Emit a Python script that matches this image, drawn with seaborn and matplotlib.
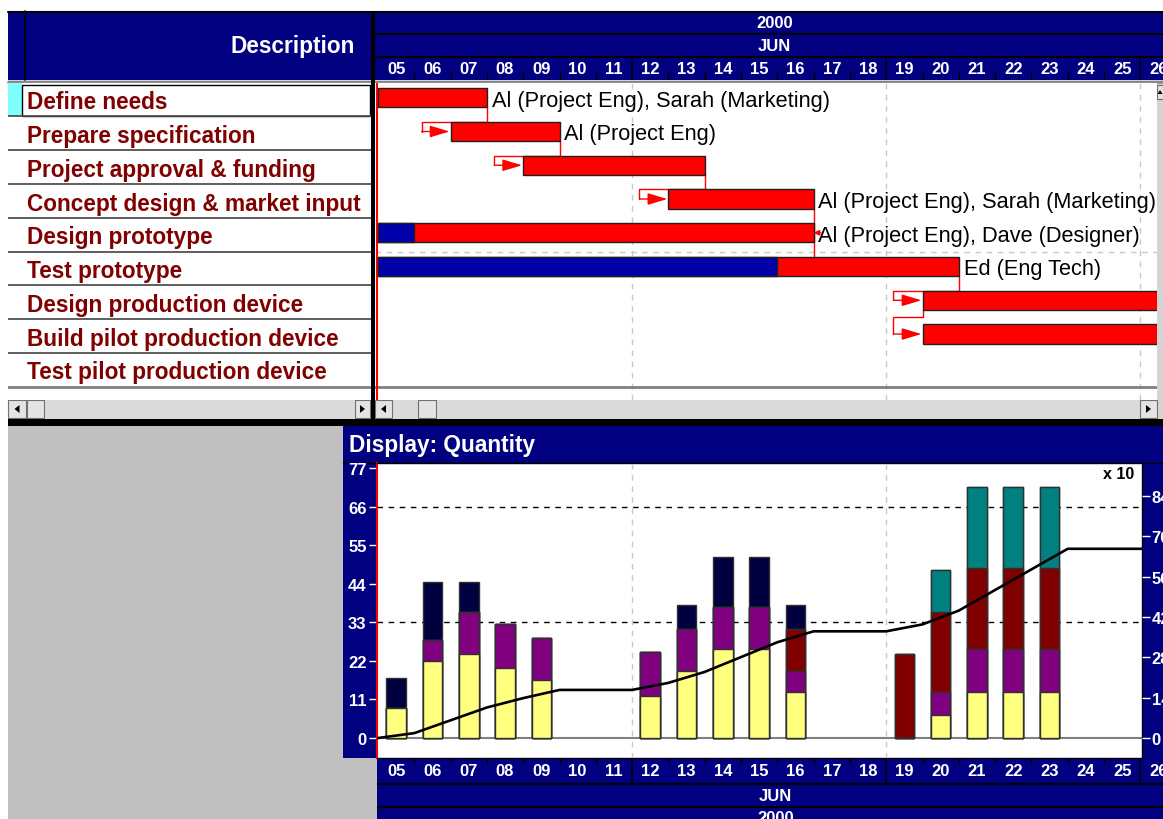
import numpy as np
import pandas as pd
import matplotlib
matplotlib.use("Agg")
import matplotlib.pyplot as plt
from matplotlib.patches import Rectangle, Polygon
import seaborn as sns

sns.set_theme(style="white")
plt.rcParams['font.family'] = ['Liberation Sans', 'DejaVu Sans']

# ---------------- data ----------------
day_labels = ['05', '06', '07', '08', '09', '10', '11', '12', '13', '14', '15',
              '16', '17', '18', '19', '20', '21', '22', '23', '24', '25', '26']
month_label = 'JUN'
year_label = '2000'

task_names = ['Define needs', 'Prepare specification', 'Project approval & funding',
              'Concept design & market input', 'Design prototype', 'Test prototype',
              'Design production device', 'Build pilot production device',
              'Test pilot production device']
# start / finish in days after 05 Jun 2000
task_start = [0, 2, 4, 8, 0, 0, 15, 15, np.nan]
task_finish = [3, 5, 9, 12, 12, 16, 24, 24, np.nan]
task_done = [0, 0, 0, 0, 1, 11, 0, 0, 0]
task_resources = ['Al (Project Eng), Sarah (Marketing)', 'Al (Project Eng)', '',
                  'Al (Project Eng), Sarah (Marketing)',
                  'Al (Project Eng), Dave (Designer)', 'Ed (Eng Tech)', '', '', '']
# (predecessor, successor, link type)
links = [(0, 1, 'FS'), (1, 2, 'FS'), (2, 3, 'FS'), (5, 6, 'FS'), (6, 7, 'SS')]

# daily quantity per resource layer, stacked bottom to top
qty_yellow = [8.5, 22, 24, 20, 16.5, 0, 0, 12, 19, 25.5, 25.5, 13, 0, 0, 0, 6.5, 13, 13, 13, 0, 0, 0]
qty_purple = [0, 6, 12, 12.5, 12, 0, 0, 12.5, 12, 12, 12, 6, 0, 0, 0, 6.5, 12.5, 12.5, 12.5, 0, 0, 0]
qty_maroon = [0, 0, 0, 0, 0, 0, 0, 0, 0, 0, 0, 12, 0, 0, 24, 23, 23, 23, 23, 0, 0, 0]
qty_teal = [0, 0, 0, 0, 0, 0, 0, 0, 0, 0, 0, 0, 0, 0, 0, 12, 23, 23, 23, 0, 0, 0]
qty_navy = [8.5, 16.5, 8.5, 0, 0, 0, 0, 0, 7, 14, 14, 7, 0, 0, 0, 0, 0, 0, 0, 0, 0, 0]

left_ticks = [0, 11, 22, 33, 44, 55, 66, 77]
right_ticks = [0, 14, 28, 42, 56, 70, 84]

# ---------------- styling ----------------
NAVY = '#000080'
DARKRED = '#800000'
LAYER_COLORS = ['#ffff80', '#800080', '#800000', '#008080', '#000040']
EDGE = '#303030'

W, H = 1163, 820
fig = plt.figure(figsize=(W / 100, H / 100), dpi=100, facecolor='white')


def frac(x0, y0, x1, y1):
    return [x0 / W, 1 - y1 / H, (x1 - x0) / W, (y1 - y0) / H]


# window chrome drawn in pixel space
bg = fig.add_axes([0, 0, 1, 1], zorder=0)
bg.set_xlim(0, W)
bg.set_ylim(H, 0)
bg.axis('off')


def box(x0, y0, x1, y1, fc, ec='none', lw=0, z=1):
    bg.add_patch(Rectangle((x0, y0), x1 - x0, y1 - y0, facecolor=fc,
                           edgecolor=ec, linewidth=lw, zorder=z))


def arrow_button(x0, y0, x1, y1, direction):
    box(x0, y0, x1, y1, '#e4e4e4', ec='#707070', lw=0.8, z=3)
    cx, cy = (x0 + x1) / 2, (y0 + y1) / 2
    if direction == 'left':
        pts = [(cx + 2.5, cy - 4), (cx + 2.5, cy + 4), (cx - 2.5, cy)]
    elif direction == 'right':
        pts = [(cx - 2.5, cy - 4), (cx - 2.5, cy + 4), (cx + 2.5, cy)]
    else:
        pts = [(cx - 2.5, cy + 2), (cx + 2.5, cy + 2), (cx, cy - 2)]
    bg.add_patch(Polygon(pts, closed=True, facecolor='black', edgecolor='none', zorder=4))


# top headers
box(8, 12, 371, 81, NAVY)
box(375, 12, 1163, 81, NAVY)
bg.plot([8, 1163], [12.5, 12.5], color='black', lw=1.5, zorder=2)
bg.plot([25, 25], [12, 81], color='black', lw=1.2, zorder=2)
bg.plot([8, 1163], [81.5, 81.5], color='#202020', lw=1, zorder=2)
bg.plot([8, 1163], [83.2, 83.2], color='#909090', lw=2, zorder=2)
bg.text(355, 53.3, 'Description', ha='right', va='baseline', color='white',
        fontsize=16.3, fontweight='bold')
box(371, 12, 375, 420, 'black', z=5)

# scrollbars
box(8, 401, 371, 420, '#dadada')
box(375, 401, 1157, 420, '#dadada')
arrow_button(8, 401, 26, 419, 'left')
box(27, 401, 44, 419, '#e4e4e4', ec='#707070', lw=0.8, z=3)
arrow_button(355, 401, 370, 419, 'right')
arrow_button(375, 401, 392, 419, 'left')
box(418, 401, 436, 419, '#e4e4e4', ec='#707070', lw=0.8, z=3)
arrow_button(1140, 401, 1157, 419, 'right')
box(1157, 84, 1163, 420, '#d4d4d4')
arrow_button(1157, 86, 1163, 100, 'up')

# lower panel
box(8, 420, 1163, 427, 'black', z=5)
box(8, 427, 343, 820, '#c0c0c0')
box(343, 759, 377, 820, '#c0c0c0')
box(343, 427, 1163, 759, NAVY)
box(377, 759, 1163, 820, NAVY)
bg.plot([343, 1163], [464, 464], color='black', lw=1, zorder=2)
bg.text(349, 446, 'Display: Quantity', ha='left', va='center', color='white',
        fontsize=16.3, fontweight='bold')

# ---------------- timescale header (top) ----------------
D0, DPX = 378.0, 36.3   # pixel of 05 Jun start, pixels per day
hdr = fig.add_axes(frac(375, 12, 1163, 81), zorder=2)
hdr.set_xlim((375 - D0) / DPX, (1163 - D0) / DPX)
hdr.set_ylim(81, 12)
hdr.axis('off')
hdr.patch.set_alpha(0)
hdr.axhline(35, color='black', lw=1.5)
hdr.axhline(58, color='black', lw=1.5)
for k, lab in enumerate(day_labels):
    hdr.text(k + 0.5, 69.5, lab, ha='center', va='center', color='white',
             fontsize=12, fontweight='bold')
    if k > 0:
        if k % 7 == 0:
            hdr.plot([k, k], [58, 81], color='black', lw=1.2)
        else:
            hdr.plot([k, k], [72, 81], color='black', lw=1)
hdr.text(0.507, 24, year_label, transform=hdr.get_yaxis_transform(), ha='center',
         va='center', color='white', fontsize=12, fontweight='bold')
hdr.text(0.507, 46.5, month_label, transform=hdr.get_yaxis_transform(), ha='center',
         va='center', color='white', fontsize=12, fontweight='bold')

# ---------------- task table ----------------
YLIM = (8.954, -0.437)
tb = fig.add_axes(frac(8, 84, 371, 401), zorder=2)
tb.set_xlim(0, 363)
tb.set_ylim(*YLIM)
tb.set_facecolor('white')
for s in tb.spines.values():
    s.set_visible(False)
tb.set_xticks([])
tb.set_yticks([])
tb.add_patch(Rectangle((0, -0.437), 14, 0.99, facecolor='#80ffff', edgecolor='none'))
tb.add_patch(Rectangle((14.3, -0.39), 348, 0.93, facecolor='none', edgecolor='black', lw=1))
for i in range(8):
    tb.axhline(i + 0.555, color='#505050', lw=1.3)
tb.axhline(8.57, color='#808080', lw=2)
for i, name in enumerate(task_names):
    tb.text(19, i + 0.315, name, va='baseline', ha='left', color=DARKRED,
            fontsize=16.3, fontweight='bold')

# ---------------- Gantt ----------------
gt = fig.add_axes(frac(375, 84, 1157, 401), zorder=2)
gt.set_xlim((375 - D0) / DPX, (1157 - D0) / DPX)
gt.set_ylim(*YLIM)
gt.set_facecolor('white')
for s in gt.spines.values():
    s.set_visible(False)
gt.set_xticks([])
gt.set_yticks([])
for wk in (7, 14, 21):
    gt.axvline(wk, color='#c8c8c8', lw=1, ls=(0, (4, 4)), zorder=0)
gt.axhline(4.555, color='#c8c8c8', lw=1, ls=(0, (4, 4)), zorder=0)
gt.axhline(8.57, color='#808080', lw=2, zorder=0)
gt.axvline(-0.04, color='red', lw=1.5, zorder=0)

BAR_H = 0.574
for i in range(len(task_names)):
    st, fn, dn = task_start[i], task_finish[i], task_done[i]
    if np.isnan(st):
        continue
    gt.barh(i, fn - st, left=st, height=BAR_H, color='#ff0000', edgecolor='#202020',
            lw=1, zorder=3)
    if dn > 0:
        gt.barh(i, dn, left=st, height=BAR_H, color='#0000a8', edgecolor='#202020',
                lw=1, zorder=3)
    if task_resources[i]:
        gt.annotate(task_resources[i], xy=(fn, i + 0.235), xytext=(3.5, 0),
                    textcoords='offset points', va='baseline', ha='left',
                    fontsize=15.7, color='black', zorder=4)

LINK = dict(color='#ff0000', lw=1, zorder=2)
ARROW = dict(arrowstyle='-|>,head_length=1.0,head_width=0.3', color='#ff0000',
             lw=1, shrinkA=0, shrinkB=0, mutation_scale=12)
for p, s, kind in links:
    x_in = task_start[s] - 0.8
    if kind == 'FS':
        x_out, y0, y1 = task_finish[p], p + BAR_H / 2, s - BAR_H / 2
    else:
        x_out, y0 = task_start[p], p + BAR_H / 2
        y1 = (y0 + s - BAR_H / 2) / 2
    gt.plot([x_out, x_out, x_in, x_in], [y0, y1, y1, s], **LINK)
    gt.annotate('', xy=(task_start[s] - 0.03, s), xytext=(x_in, s), arrowprops=ARROW,
                zorder=2)
# concept design finish tied to the prototype bars
gt.plot([task_finish[3], task_finish[3]], [3 + BAR_H / 2, 5 - BAR_H / 2], **LINK)
gt.annotate('', xy=(task_finish[4], 4), xytext=(task_finish[4] + 0.2, 4),
            arrowprops=dict(arrowstyle='-|>,head_length=0.4,head_width=0.2',
                            color='#ff0000', lw=1, shrinkA=0, shrinkB=0,
                            mutation_scale=8))

# ---------------- quantity histogram ----------------
df = pd.DataFrame({'day': day_labels, 'yellow': qty_yellow, 'purple': qty_purple,
                   'maroon': qty_maroon, 'teal': qty_teal, 'navy': qty_navy})
layers = ['yellow', 'purple', 'maroon', 'teal', 'navy']
cum = df[layers].cumsum(axis=1)
total = cum['navy']

XL = (377 - D0) / DPX - 0.5, (1142 - D0) / DPX - 0.5
ax = fig.add_axes(frac(377, 464, 1142, 759), zorder=3)
ax.set_facecolor('white')
ax.axhline(0, color='#808080', lw=1.5, zorder=0.5)
for gy in (33, 66):
    ax.axhline(gy, color='black', lw=1, ls=(0, (4, 4)), zorder=0.5)

# stacked columns: draw cumulative tops from the highest layer downwards
for layer, color in zip(layers[::-1], LAYER_COLORS[::-1]):
    tops = cum[layer].where(total > 0)
    sns.barplot(x=df['day'], y=tops, order=day_labels, color=color, saturation=1,
                width=0.54, edgecolor=EDGE, linewidth=1, errorbar=None, ax=ax,
                zorder=2)

ax.set_xlim(*XL)
ax.set_ylim(-5.7, 78.44)
ax.set_xticks([])
ax.set_xlabel('')
ax.set_ylabel('')
ax.set_yticks(left_ticks)
ax.set_yticklabels([str(v) for v in left_ticks], fontweight='bold')
ax.tick_params(axis='y', left=True, colors='white', labelsize=12, length=5.5,
               width=1, direction='out', pad=2)
for side in ('top', 'right', 'bottom'):
    ax.spines[side].set_color('black')
    ax.spines[side].set_linewidth(1)
ax.spines['left'].set_color('red')
ax.spines['left'].set_linewidth(1.5)

# cumulative quantity (x 10) on the right axis
bounds = np.arange(len(day_labels) + 1) - 0.5
cumulative = np.concatenate([[0.0], np.cumsum(total.to_numpy())]) / 10
ax2 = fig.add_axes(frac(377, 464, 1142, 759), zorder=4)
ax2.patch.set_alpha(0)
for wk in (6.5, 13.5):
    ax2.axvline(wk, color='#c8c8c8', lw=1, ls=(0, (4, 4)), zorder=0)
sns.lineplot(x=bounds, y=cumulative, ax=ax2, color='black', linewidth=1.9)
ax2.set_xlim(*XL)
ax2.set_ylim(-5.7 * 1.2174, 78.44 * 1.2174)
ax2.set_xticks([])
ax2.set_xlabel('')
ax2.set_ylabel('')
ax2.yaxis.tick_right()
ax2.set_yticks(right_ticks)
ax2.set_yticklabels([str(v) for v in right_ticks], fontweight='bold')
ax2.tick_params(axis='y', right=True, left=False, colors='white', labelsize=12,
                length=5.5, width=1, direction='out', pad=1.5)
for s in ax2.spines.values():
    s.set_visible(False)
ax2.text(0.9895, 0.963, 'x 10', transform=ax2.transAxes, ha='right', va='center',
         fontsize=11.5, fontweight='bold', color='black')

# ---------------- timescale footer (bottom) ----------------
ft = fig.add_axes(frac(377, 759, 1163, 820), zorder=2)
ft.set_xlim(XL[0], (1163 - D0) / DPX - 0.5)
ft.set_ylim(820, 759)
ft.axis('off')
ft.patch.set_alpha(0)
ft.axhline(784.5, color='black', lw=1.5)
ft.axhline(808, color='black', lw=1.5)
for k, lab in enumerate(day_labels):
    ft.text(k, 771.5, lab, ha='center', va='center', color='white', fontsize=12,
            fontweight='bold')
    b = k + 0.5
    if (k + 1) % 7 == 0:
        ft.plot([b, b], [759, 784.5], color='black', lw=1.2)
    else:
        ft.plot([b, b], [759, 765], color='black', lw=1)
ft.text(0.507, 796.5, month_label, transform=ft.get_yaxis_transform(), ha='center',
        va='center', color='white', fontsize=12, fontweight='bold')
ft.text(0.507, 819, year_label, transform=ft.get_yaxis_transform(), ha='center',
        va='center', color='white', fontsize=12, fontweight='bold', clip_on=False)

fig.savefig('out.png', dpi=100, facecolor='white')
